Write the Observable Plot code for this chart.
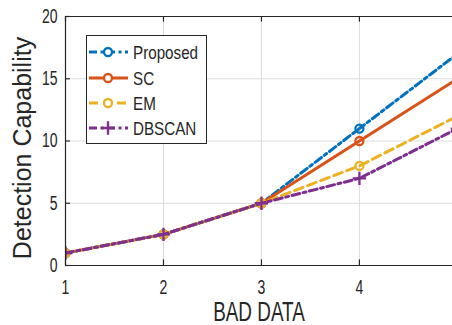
<!DOCTYPE html>
<html><head><meta charset="utf-8">
<script src="https://cdn.jsdelivr.net/npm/d3@7"></script>
<script src="https://cdn.jsdelivr.net/npm/@observablehq/plot@0.6"></script>
<style>
html,body{margin:0;padding:0;background:#fff;}
#wrap{position:relative;width:452px;height:325px;overflow:hidden;}
#legend{position:absolute;left:86px;top:35px;}
</style></head><body><div id="wrap"></div>
<script>
// ---- data ----
const badData = [1, 2, 3, 4, 5];
const proposed = [1, 2.5, 5, 11, 17];
const sc = [1, 2.5, 5, 10, 15];
const em = [1, 2.5, 5, 8, 12];
const dbscan = [1, 2.5, 5, 7, 11];
const seriesNames = ["Proposed", "SC", "EM", "DBSCAN"];
const seriesValues = [proposed, sc, em, dbscan];
const seriesColors = ["#0072BD", "#D95319", "#EDB120", "#7E2F8E"];
const seriesDash = ["8,3.5,3,3.5", null, "9,5", "8,3.5,3,3.5"];
const seriesSymbol = ["circle", "circle", "circle", "plus"];
const xTicks = [1, 2, 3, 4];
const yTicks = [0, 5, 10, 15, 20];
const xLabel = "BAD DATA";
const yLabel = "Detection Capability";

const ink = "#262626";
const font = "'Liberation Sans', Arial, Helvetica, sans-serif";

const seriesRows = seriesNames.map((name, i) =>
  badData.map((x, j) => ({series: name, x, y: seriesValues[i][j]})));

const dataMarks = [];
seriesRows.forEach((rows, i) => {
  dataMarks.push(Plot.line(rows, {
    x: "x", y: "y", stroke: seriesColors[i], strokeWidth: 3,
    strokeDasharray: seriesDash[i], clip: true
  }));
  dataMarks.push(Plot.dot(rows, {
    x: "x", y: "y", stroke: seriesColors[i], fill: "none",
    strokeWidth: 2.3, r: seriesSymbol[i] === "plus" ? 4.4 : 4,
    symbol: seriesSymbol[i], clip: true
  }));
});

const chart = Plot.plot({
  width: 452, height: 325,
  marginLeft: 65, marginRight: 0, marginTop: 16, marginBottom: 60,
  style: {fontFamily: font, color: ink, background: "#fff"},
  x: {domain: [1, 4.95]},
  y: {domain: [0, 20]},
  marks: [
    Plot.gridX(xTicks.slice(1), {stroke: "#dcdcdc", strokeOpacity: 1, strokeWidth: 1}),
    Plot.gridY(yTicks.slice(1, -1), {stroke: "#dcdcdc", strokeOpacity: 1, strokeWidth: 1}),
    ...dataMarks,
    Plot.ruleX([xTicks[0]], {stroke: ink, strokeWidth: 1.2}),
    Plot.ruleY([yTicks[0]], {stroke: ink, strokeWidth: 1.2}),
    Plot.ruleY([yTicks[yTicks.length - 1]], {stroke: ink, strokeWidth: 1.2}),
    Plot.ruleX(xTicks, {y1: 0, y2: 0.45, stroke: ink, strokeWidth: 1.2}),
    Plot.ruleX(xTicks, {y1: 20, y2: 19.55, stroke: ink, strokeWidth: 1.2}),
    Plot.ruleY(yTicks, {x1: 1, x2: 1.05, stroke: ink, strokeWidth: 1.2}),
    Plot.axisX({ticks: xTicks, tickFormat: d => String(d), tickSize: 0, tickPadding: 14, label: null, fill: ink}),
    Plot.axisY({ticks: yTicks, tickFormat: d => String(d), tickSize: 0, tickPadding: 8, label: null, fill: ink}),
    Plot.text([xLabel], {text: d => d, frameAnchor: "bottom", textAnchor: "middle", dy: 55, lineAnchor: "bottom", fontSize: 27, fill: ink}),
    Plot.text([yLabel], {text: d => d, frameAnchor: "left", textAnchor: "middle", dx: -35, dy: 7, rotate: -90, lineAnchor: "bottom", fontSize: 25, fill: ink})
  ]
});

const wrap = document.getElementById("wrap");
wrap.appendChild(chart);

// tick label size
const tickTexts = new Set([...xTicks, ...yTicks].map(String));
chart.querySelectorAll("text").forEach(t => {
  if (tickTexts.has(t.textContent)) t.style.fontSize = "20px";
});

// narrow the glyphs horizontally (the reference uses a condensed rendering)
function squeeze(root, f, skip) {
  root.querySelectorAll("text").forEach(t => {
    if (skip && t.textContent === skip) return;
    const L = t.getComputedTextLength();
    if (L > 0) {
      t.setAttribute("textLength", (L * f).toFixed(2));
      t.setAttribute("lengthAdjust", "spacingAndGlyphs");
    }
  });
}
squeeze(chart, 0.7, yLabel);

// ---- legend ----
const lw = 120, lh = 108;
const leg = d3.select(wrap).append("svg")
  .attr("id", "legend").attr("width", lw + 1).attr("height", lh + 1);
leg.append("rect").attr("x", 0.5).attr("y", 0.5).attr("width", lw).attr("height", lh)
  .attr("fill", "#fff").attr("stroke", ink).attr("stroke-width", 1);
const rowY = [17, 43, 68, 93];
seriesNames.forEach((name, i) => {
  const g = leg.append("g").attr("transform", `translate(0,${rowY[i]})`);
  g.append("line").attr("x1", 3).attr("x2", 42).attr("y1", 0).attr("y2", 0)
    .attr("stroke", seriesColors[i]).attr("stroke-width", 3)
    .attr("stroke-dasharray", seriesDash[i]);
  if (seriesSymbol[i] === "plus") {
    g.append("path").attr("transform", "translate(22,0)")
      .attr("d", d3.symbol(d3.symbolPlus, Math.PI * 4.4 * 4.4)())
      .attr("fill", "none").attr("stroke", seriesColors[i]).attr("stroke-width", 2.3);
  } else {
    g.append("circle").attr("cx", 22).attr("cy", 0).attr("r", 4)
      .attr("fill", "#fff").attr("stroke", seriesColors[i]).attr("stroke-width", 2.3);
  }
  g.append("text").attr("x", 47).attr("y", 7)
    .attr("font-family", font).attr("font-size", 19).attr("fill", ink)
    .text(name);
});
squeeze(leg.node(), 0.8);
</script>
</body></html>
